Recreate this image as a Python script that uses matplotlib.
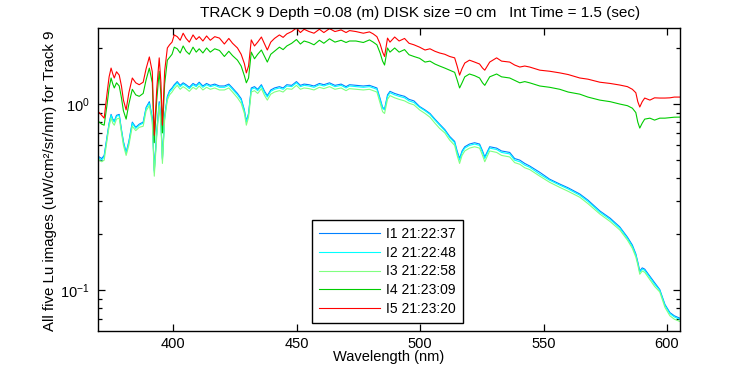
import matplotlib
matplotlib.use("Agg")
import matplotlib.pyplot as plt
from matplotlib.ticker import LogLocator, FixedLocator

plt.rcParams['font.family'] = ['Liberation Sans', 'DejaVu Sans']
plt.rcParams['mathtext.fontset'] = 'custom'
plt.rcParams['mathtext.rm'] = 'Liberation Sans'
plt.rcParams['mathtext.it'] = 'Liberation Sans'

title = "TRACK 9 Depth =0.08 (m) DISK size =0 cm   Int Time = 1.5 (sec)"
labels = ["I1 21:22:37", "I2 21:22:48", "I3 21:22:58", "I4 21:23:09", "I5 21:23:20"]
colors = ["#0080ff", "#00ffff", "#80ff80", "#00cc00", "#ff0000"]

wavelength = [
    370.0, 371.0, 372.0, 373.2, 374.0, 374.8, 375.5, 376.1, 377.0, 378.1,
    379.0, 379.8, 380.9, 382.0, 383.4, 384.8, 386.2, 387.8, 389.0, 390.3,
    391.5, 392.3, 393.3, 394.3, 395.0, 395.6, 396.5, 397.6, 398.5, 399.5,
    400.4, 401.6, 402.8, 404.0, 405.2, 406.5, 408.0, 409.3, 410.5, 412.0,
    413.5, 415.0, 416.8, 418.7, 420.7, 422.5, 424.0, 426.0, 427.5, 428.8,
    429.6, 430.5, 431.6, 432.9, 434.2, 435.7, 437.0, 438.1, 439.5, 441.0,
    443.0, 444.5, 446.0, 448.0, 449.9, 451.5, 453.0, 455.0, 457.0, 459.2,
    461.0, 463.3, 465.5, 468.0, 470.0, 471.4, 474.0, 477.0, 479.5, 481.0,
    482.5, 483.8, 484.8, 485.6, 486.8, 487.8, 489.7, 491.5, 493.7, 495.5,
    497.5, 499.8, 502.0, 504.0, 506.0, 507.9, 510.0, 512.0, 514.0, 515.0,
    516.0, 517.0, 518.1, 520.0, 522.1, 524.1, 525.3, 526.2, 528.2, 531.0,
    533.0, 536.3, 538.3, 540.4, 542.4, 544.4, 548.5, 552.5, 556.6, 560.0,
    564.7, 568.0, 572.8, 577.0, 580.9, 584.0, 586.0, 587.4, 588.2, 589.0,
    590.0, 591.0, 593.1, 595.0, 597.1, 599.2, 601.2, 603.0, 605.3]

i1 = [
    0.52, 0.51, 0.53, 0.67, 0.79, 0.88, 0.83, 0.81, 0.87, 0.88,
    0.73, 0.63, 0.55, 0.63, 0.80, 0.75, 0.78, 0.80, 0.96, 1.03,
    0.84, 0.44, 0.71, 1.03, 0.81, 0.51, 0.86, 1.10, 1.18, 1.22,
    1.27, 1.32, 1.26, 1.30, 1.27, 1.23, 1.29, 1.26, 1.31, 1.25,
    1.29, 1.26, 1.28, 1.25, 1.25, 1.28, 1.22, 1.14, 1.07, 0.93,
    0.81, 0.89, 1.22, 1.24, 1.20, 1.27, 1.17, 1.11, 1.19, 1.22,
    1.24, 1.22, 1.27, 1.26, 1.32, 1.26, 1.28, 1.27, 1.25, 1.29,
    1.27, 1.30, 1.26, 1.28, 1.24, 1.27, 1.26, 1.25, 1.26, 1.24,
    1.22, 1.07, 0.96, 0.94, 1.12, 1.17, 1.14, 1.12, 1.10, 1.06,
    1.04, 0.97, 0.93, 0.89, 0.83, 0.78, 0.73, 0.67, 0.63, 0.56,
    0.51, 0.56, 0.59, 0.61, 0.62, 0.61, 0.56, 0.52, 0.59, 0.58,
    0.56, 0.55, 0.51, 0.50, 0.48, 0.465, 0.43, 0.395, 0.372, 0.355,
    0.329, 0.305, 0.267, 0.244, 0.219, 0.193, 0.175, 0.157, 0.142, 0.127,
    0.132, 0.130, 0.119, 0.110, 0.101, 0.084, 0.076, 0.073, 0.0708]

i2 = [
    0.51, 0.50, 0.52, 0.66, 0.78, 0.87, 0.82, 0.80, 0.86, 0.87,
    0.72, 0.62, 0.545, 0.62, 0.79, 0.74, 0.77, 0.79, 0.95, 1.01,
    0.83, 0.43, 0.70, 1.01, 0.80, 0.50, 0.85, 1.08, 1.16, 1.20,
    1.25, 1.30, 1.24, 1.28, 1.25, 1.21, 1.27, 1.24, 1.29, 1.23,
    1.27, 1.24, 1.26, 1.23, 1.23, 1.26, 1.20, 1.12, 1.05, 0.92,
    0.80, 0.88, 1.20, 1.22, 1.18, 1.25, 1.15, 1.09, 1.17, 1.20,
    1.22, 1.20, 1.25, 1.24, 1.30, 1.24, 1.26, 1.25, 1.23, 1.27,
    1.25, 1.28, 1.24, 1.26, 1.22, 1.25, 1.24, 1.23, 1.24, 1.22,
    1.20, 1.05, 0.95, 0.93, 1.10, 1.15, 1.12, 1.10, 1.08, 1.04,
    1.02, 0.96, 0.92, 0.88, 0.82, 0.77, 0.72, 0.66, 0.62, 0.55,
    0.50, 0.55, 0.58, 0.60, 0.61, 0.60, 0.55, 0.51, 0.58, 0.57,
    0.55, 0.54, 0.50, 0.49, 0.47, 0.458, 0.42, 0.39, 0.367, 0.35,
    0.324, 0.30, 0.263, 0.24, 0.216, 0.19, 0.172, 0.155, 0.140, 0.125,
    0.130, 0.128, 0.117, 0.108, 0.100, 0.083, 0.075, 0.072, 0.0698]

i3 = [
    0.50, 0.49, 0.50, 0.64, 0.76, 0.84, 0.79, 0.77, 0.83, 0.84,
    0.70, 0.60, 0.53, 0.60, 0.76, 0.72, 0.75, 0.76, 0.92, 0.98,
    0.80, 0.41, 0.67, 0.98, 0.77, 0.48, 0.82, 1.05, 1.12, 1.16,
    1.21, 1.26, 1.20, 1.24, 1.21, 1.17, 1.23, 1.20, 1.25, 1.19,
    1.23, 1.20, 1.22, 1.19, 1.19, 1.22, 1.16, 1.08, 1.01, 0.89,
    0.77, 0.85, 1.16, 1.18, 1.14, 1.21, 1.11, 1.05, 1.13, 1.16,
    1.18, 1.16, 1.21, 1.20, 1.26, 1.20, 1.22, 1.21, 1.19, 1.23,
    1.21, 1.24, 1.20, 1.22, 1.18, 1.21, 1.20, 1.19, 1.20, 1.18,
    1.16, 1.01, 0.91, 0.89, 1.06, 1.11, 1.08, 1.06, 1.04, 1.01,
    0.99, 0.93, 0.89, 0.85, 0.79, 0.74, 0.70, 0.64, 0.60, 0.53,
    0.48, 0.53, 0.56, 0.58, 0.59, 0.58, 0.53, 0.49, 0.56, 0.55,
    0.53, 0.52, 0.485, 0.475, 0.455, 0.445, 0.41, 0.38, 0.357, 0.34,
    0.316, 0.292, 0.257, 0.234, 0.211, 0.186, 0.168, 0.151, 0.137, 0.122,
    0.127, 0.125, 0.114, 0.105, 0.098, 0.081, 0.073, 0.070, 0.068]

i4 = [
    0.80, 0.78, 0.77, 1.00, 1.22, 1.38, 1.28, 1.22, 1.30, 1.25,
    1.08, 0.92, 0.83, 1.00, 1.20, 1.12, 1.10, 1.14, 1.35, 1.56,
    1.30, 0.62, 1.05, 1.50, 1.12, 0.70, 1.28, 1.72, 1.78, 1.85,
    2.02, 1.98, 1.88, 2.05, 1.92, 1.85, 2.02, 1.90, 1.98, 1.88,
    2.00, 1.90, 1.98, 1.94, 1.80, 1.92, 1.82, 1.72, 1.60, 1.42,
    1.30, 1.38, 1.90, 1.75, 1.85, 1.95, 1.80, 1.68, 1.85, 1.92,
    2.02, 1.96, 2.05, 2.12, 2.22, 2.10, 2.18, 2.14, 2.08, 2.20,
    2.12, 2.24, 2.15, 2.20, 2.14, 2.18, 2.18, 2.14, 2.21, 2.15,
    2.08, 1.88, 1.70, 1.62, 2.00, 1.90, 2.00, 1.90, 1.96, 1.84,
    1.80, 1.76, 1.68, 1.70, 1.64, 1.60, 1.56, 1.52, 1.48, 1.35,
    1.22, 1.30, 1.40, 1.45, 1.42, 1.38, 1.30, 1.26, 1.40, 1.45,
    1.40, 1.38, 1.34, 1.30, 1.32, 1.30, 1.25, 1.23, 1.20, 1.16,
    1.13, 1.09, 1.05, 1.03, 1.00, 0.98, 0.95, 0.90, 0.80, 0.743,
    0.79, 0.83, 0.84, 0.82, 0.84, 0.84, 0.845, 0.85, 0.851]

i5 = [
    0.90, 0.87, 0.84, 1.15, 1.40, 1.56, 1.45, 1.38, 1.49, 1.43,
    1.25, 1.05, 0.93, 1.15, 1.38, 1.30, 1.27, 1.31, 1.55, 1.79,
    1.49, 0.68, 1.20, 1.77, 1.30, 0.77, 1.50, 2.00, 2.08, 2.15,
    2.35, 2.30, 2.20, 2.40, 2.25, 2.15, 2.35, 2.22, 2.30, 2.18,
    2.32, 2.20, 2.30, 2.26, 2.10, 2.25, 2.12, 2.00, 1.85, 1.65,
    1.47, 1.60, 2.21, 2.05, 2.15, 2.29, 2.10, 1.95, 2.15, 2.25,
    2.35, 2.28, 2.38, 2.45, 2.56, 2.42, 2.52, 2.45, 2.40, 2.52,
    2.42, 2.54, 2.45, 2.50, 2.42, 2.48, 2.45, 2.40, 2.44, 2.38,
    2.30, 2.10, 1.90, 1.80, 2.26, 2.15, 2.29, 2.18, 2.25, 2.12,
    2.08, 2.02, 1.95, 1.98, 1.92, 1.88, 1.85, 1.80, 1.77, 1.60,
    1.43, 1.55, 1.66, 1.72, 1.68, 1.64, 1.56, 1.52, 1.68, 1.77,
    1.70, 1.68, 1.62, 1.58, 1.60, 1.58, 1.52, 1.50, 1.47, 1.44,
    1.38, 1.36, 1.31, 1.29, 1.265, 1.24, 1.20, 1.15, 1.03, 0.964,
    1.03, 1.077, 1.05, 1.08, 1.077, 1.077, 1.08, 1.09, 1.09]

series = [i1, i2, i3, i4, i5]

fig = plt.figure(figsize=(7.5, 3.75), dpi=100)
ax = fig.add_axes([98/750, 1-331/375, 582/750, 303/375])

for s, lab, c in zip(series, labels, colors):
    ax.plot(wavelength, s, color=c, linewidth=0.8, label=lab)

ax.set_yscale("log")
ax.set_xlim(369.5, 605.3)
ax.set_ylim(0.0605, 2.56)
ax.xaxis.set_major_locator(FixedLocator([400, 450, 500, 550, 600]))
ax.yaxis.set_major_locator(LogLocator(base=10))
ax.yaxis.set_minor_locator(LogLocator(base=10, subs=range(2, 10)))
ax.tick_params(which='both', direction='in', top=True, right=True,
               labelsize=10.5, width=0.9, color='black')
ax.tick_params(which='major', length=5, pad=6)
ax.tick_params(which='minor', length=3)
ax.tick_params(axis='x', pad=4)
for sp in ax.spines.values():
    sp.set_linewidth(1.0)

fig.text(420/750, 1-13/375, title, ha='center', va='center', fontsize=11)
fig.text(389/750, 1-357/375, "Wavelength (nm)", ha='center', va='center', fontsize=10.5)
fig.text(50/750, 1-181/375, "All five Lu images (uW/cm\u00b2/sr/nm) for Track 9",
         ha='center', va='center', rotation=90, fontsize=10.8)

leg = ax.legend(loc='upper left', bbox_to_anchor=(312/750, 1-220/375),
                bbox_transform=fig.transFigure, borderaxespad=0, fontsize=10,
                handlelength=4.4, handletextpad=0.45, labelspacing=0.34,
                borderpad=0.5, fancybox=False, framealpha=1, edgecolor='black')
leg.get_frame().set_linewidth(1.0)

fig.savefig("out.png", dpi=100)
